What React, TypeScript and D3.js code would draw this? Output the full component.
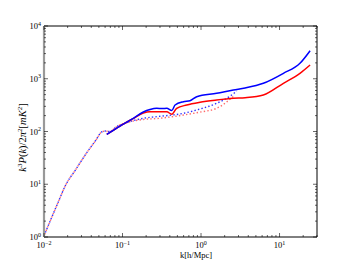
import React, { useEffect, useRef } from "react";
import * as d3 from "d3";

// shared low-k dotted part (both curves overlap here)
const lowK = [0.01, 0.0126, 0.015, 0.0189, 0.025, 0.0356, 0.045, 0.055, 0.061, 0.069, 0.084, 0.113];
const lowP = [1.05, 2.4, 4.4, 9.7, 18.4, 41, 66, 99, 102, 100, 123, 147];

const blueDotK = [0.184, 0.273, 0.596, 1.0, 1.58, 2.46, 2.85];
const blueDotP = [178, 191, 221, 270, 342, 492, 586];
const redDotK = [0.184, 0.273, 0.596, 1.0, 1.58, 2.71];
const redDotP = [169, 176, 205, 235, 275, 492];

const blueK = [0.063, 0.093, 0.137, 0.184, 0.224, 0.273, 0.32, 0.366, 0.424, 0.467, 0.596, 0.724, 0.881, 1.58, 2.58, 3.64, 6.22, 11.2, 18.2, 24.5];
const blueP = [88, 127, 178, 234, 261, 275, 272, 275, 250, 318, 367, 384, 457, 530, 612, 668, 820, 1268, 1963, 3400];
const redK = [0.063, 0.093, 0.137, 0.184, 0.224, 0.3, 0.366, 0.424, 0.49, 0.658, 0.97, 1.58, 2.58, 3.64, 6.22, 11.2, 18.2, 24.5];
const redP = [88, 127, 176, 224, 237, 236, 237, 212, 275, 318, 358, 395, 426, 437, 492, 820, 1268, 1823];

const xDecades = [-2, -1, 0, 1];
const yDecades = [0, 1, 2, 3, 4];

const App = () => {
  const ref = useRef<SVGSVGElement>(null);

  useEffect(() => {
    const svg = d3.select(ref.current);
    svg.selectAll("*").remove();

    const left = 44, right = 317, top = 26, bottom = 237;
    const x = d3.scaleLog().domain([0.01, 30]).range([left, right]);
    const y = d3.scaleLog().domain([1, 10000]).range([bottom, top]);

    const zip = (ks: number[], ps: number[]) => ks.map((k, i) => [k, ps[i]] as [number, number]);
    const line = d3
      .line<[number, number]>()
      .x((d) => x(d[0]))
      .y((d) => y(d[1]))
      .curve(d3.curveMonotoneX);

    const g = svg.append("g");

    // dotted lines
    g.append("path")
      .attr("d", line(zip(lowK.concat(blueDotK), lowP.concat(blueDotP))))
      .attr("fill", "none")
      .attr("stroke", "#3030ff")
      .attr("stroke-width", 1.4)
      .attr("stroke-dasharray", "1.4,2.2");
    g.append("path")
      .attr("d", line(zip(lowK.concat(redDotK), lowP.concat(redDotP))))
      .attr("fill", "none")
      .attr("stroke", "#ff5050")
      .attr("stroke-width", 1.4)
      .attr("stroke-dasharray", "1.4,2.2")
      .attr("stroke-dashoffset", 1.8)
      .attr("opacity", 0.85);

    // solid lines
    g.append("path")
      .attr("d", line(zip(redK, redP)))
      .attr("fill", "none")
      .attr("stroke", "#ff0000")
      .attr("stroke-width", 1.5);
    g.append("path")
      .attr("d", line(zip(blueK, blueP)))
      .attr("fill", "none")
      .attr("stroke", "#0000ff")
      .attr("stroke-width", 1.5);

    // frame
    const frame = svg.append("g").attr("stroke", "#000").attr("stroke-width", 1);
    frame.append("line").attr("x1", left).attr("x2", right).attr("y1", top).attr("y2", top);
    frame.append("line").attr("x1", left).attr("x2", right).attr("y1", bottom).attr("y2", bottom);
    frame.append("line").attr("x1", right).attr("x2", right).attr("y1", top).attr("y2", bottom);
    frame
      .append("line")
      .attr("x1", left)
      .attr("x2", left)
      .attr("y1", top)
      .attr("y2", bottom)
      .attr("stroke", "#999")
      .attr("stroke-width", 2.2);

    // ticks
    const ticks = svg.append("g").attr("stroke", "#000").attr("stroke-width", 0.6);
    const xt: { v: number; major: boolean }[] = [];
    xDecades.forEach((e) => {
      for (let m = 1; m < 10; m++) {
        const v = m * Math.pow(10, e);
        if (v <= 30) xt.push({ v, major: m === 1 });
      }
    });
    xt.forEach((t) => {
      const len = t.major ? 4 : 2;
      const px = x(t.v);
      ticks.append("line").attr("x1", px).attr("x2", px).attr("y1", bottom).attr("y2", bottom - len);
      ticks.append("line").attr("x1", px).attr("x2", px).attr("y1", top).attr("y2", top + len);
    });
    const yt: { v: number; major: boolean }[] = [];
    yDecades.forEach((e) => {
      for (let m = 1; m < 10; m++) {
        const v = m * Math.pow(10, e);
        if (v <= 10000) yt.push({ v, major: m === 1 });
      }
    });
    yt.forEach((t) => {
      const len = t.major ? 4 : 2;
      const py = y(t.v);
      ticks.append("line").attr("x1", left).attr("x2", left + len).attr("y1", py).attr("y2", py);
      ticks.append("line").attr("x1", right).attr("x2", right - len).attr("y1", py).attr("y2", py);
    });

    const font = "'Liberation Serif', 'DejaVu Serif', serif";

    // x tick labels
    xDecades.forEach((e) => {
      const t = svg
        .append("text")
        .attr("x", x(Math.pow(10, e)))
        .attr("y", 248)
        .attr("text-anchor", "middle")
        .attr("font-family", font)
        .attr("font-size", 8.5)
        .attr("fill", "#000");
      t.append("tspan").text("10");
      t.append("tspan").attr("dy", -3.5).attr("font-size", 6).text(e < 0 ? "\u2212" + -e : String(e));
    });

    // y tick labels
    yDecades.forEach((e) => {
      const t = svg
        .append("text")
        .attr("x", 41)
        .attr("y", y(Math.pow(10, e)) + 3)
        .attr("text-anchor", "end")
        .attr("font-family", font)
        .attr("font-size", 8.5)
        .attr("fill", "#000");
      t.append("tspan").text("10");
      t.append("tspan").attr("dy", -3.5).attr("font-size", 6).text(String(e));
    });

    // axis labels
    svg
      .append("text")
      .attr("x", 196)
      .attr("y", 258)
      .attr("text-anchor", "middle")
      .attr("font-family", font)
      .attr("font-size", 8.5)
      .text("k[h/Mpc]");

    const yl = svg
      .append("text")
      .attr("transform", `translate(26,${(top + bottom) / 2 + 6}) rotate(-90)`)
      .attr("text-anchor", "middle")
      .attr("font-family", font)
      .attr("font-size", 10.5)
      .attr("font-style", "italic");
    yl.append("tspan").text("k");
    yl.append("tspan").attr("dy", -4).attr("font-size", 7).attr("font-style", "normal").text("3");
    yl.append("tspan").attr("dy", 4).text("P");
    yl.append("tspan").attr("font-style", "normal").text("(");
    yl.append("tspan").text("k");
    yl.append("tspan").attr("font-style", "normal").text(")/2");
    yl.append("tspan").text("\u03c0");
    yl.append("tspan").attr("dy", -4).attr("font-size", 7).attr("font-style", "normal").text("2");
    yl.append("tspan").attr("dy", 4).attr("font-style", "normal").text("[");
    yl.append("tspan").text("mK");
    yl.append("tspan").attr("dy", -4).attr("font-size", 7).attr("font-style", "normal").text("2");
    yl.append("tspan").attr("dy", 4).attr("font-style", "normal").text("]");
  }, []);

  return (
    <svg
      ref={ref}
      width={352}
      height={264}
      style={{ position: "absolute", left: 0, top: 0, background: "#fff" }}
    />
  );
};

export default App;
